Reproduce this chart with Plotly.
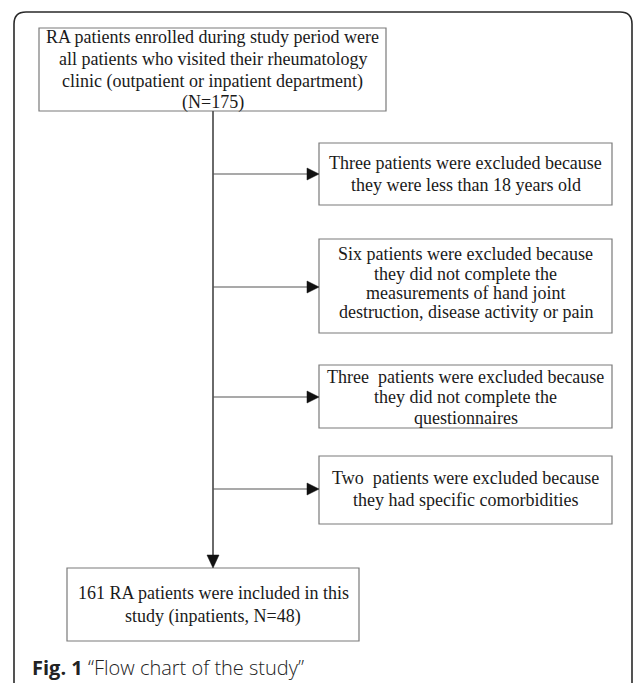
import plotly.graph_objects as go

# Flow chart content
main_text = ["RA patients enrolled during study period were",
             "all patients who visited their rheumatology",
             "clinic (outpatient or inpatient department)",
             "(N=175)"]
excl_texts = [
    ["Three patients were excluded because", "they were less than 18 years old"],
    ["Six patients were excluded because", "they did not complete the",
     "measurements of hand joint", "destruction, disease activity or pain"],
    ["Three  patients were excluded because", "they did not complete the", "questionnaires"],
    ["Two  patients were excluded because", "they had specific comorbidities"],
]
final_text = ["161 RA patients were included in this", "study (inpatients, N=48)"]
caption_bold = "Fig. 1"
caption_rest = "\u201cFlow chart of the study\u201d"

# layout geometry (pixels)
W, H = 633, 683
main_box = (39, 28, 386, 111)
main_lines_y = [37, 59, 81, 102]
excl_boxes = [(319, 143, 612, 205), (319, 239, 612, 333), (319, 365, 612, 428), (319, 456, 612, 524)]
excl_lines_y = [[163, 185], [254, 274, 293, 312], [377, 397, 418], [478, 500]]
arrow_ys = [174, 287, 397, 489]
final_box = (67, 568, 359, 641)
final_lines_y = [593, 616]
spine_x = 213

fig = go.Figure()
shapes = []
annos = []
serif = dict(family="Liberation Serif, Times New Roman, serif", size=18, color="#1a1a1a")

# outer frame
shapes.append(dict(type="path", path="M 14,700 L 14,24 Q 14,12 26,12 L 620,12 Q 632,12 632,24 L 632,700",
                   line=dict(color="#2a2a2a", width=1.6), layer="below"))

def box(b, text, ys):
    x0, y0, x1, y1 = b
    shapes.append(dict(type="rect", x0=x0, y0=y0, x1=x1, y1=y1,
                       line=dict(color="#7a7a7a", width=1.2), fillcolor="rgba(0,0,0,0)"))
    for t, y in zip(text, ys):
        annos.append(dict(x=(x0 + x1) / 2, y=y, text=t, showarrow=False,
                          font=serif, xanchor="center", yanchor="middle", align="center"))

box(main_box, main_text, main_lines_y)
for b, t, ys in zip(excl_boxes, excl_texts, excl_lines_y):
    box(b, t, ys)
box(final_box, final_text, final_lines_y)

# spine
shapes.append(dict(type="line", x0=spine_x, y0=main_box[3], x1=spine_x, y1=final_box[1] - 12,
                   line=dict(color="#5a5a5a", width=1.8)))
ty = final_box[1]
shapes.append(dict(type="path", path=f"M {spine_x-6},{ty-13} L {spine_x+6},{ty-13} L {spine_x},{ty} Z",
                   fillcolor="#111", line=dict(color="#111", width=0.5)))

# side arrows
for ay, b in zip(arrow_ys, excl_boxes):
    tip = b[0]
    shapes.append(dict(type="line", x0=spine_x, y0=ay, x1=tip - 12, y1=ay,
                       line=dict(color="#555", width=1.1)))
    shapes.append(dict(type="path", path=f"M {tip-12},{ay-6} L {tip-12},{ay+6} L {tip},{ay} Z",
                       fillcolor="#111", line=dict(color="#111", width=0.5)))

# caption
annos.append(dict(x=30, y=667, xanchor="left", yanchor="middle", showarrow=False,
                  text=f"<b>{caption_bold}</b> <span style='font-weight:300'>{caption_rest}</span>",
                  font=dict(family="Open Sans, Noto Sans, sans-serif", size=20, color="#222")))

fig.update_layout(width=W, height=H, margin=dict(l=0, r=0, t=0, b=0),
                  paper_bgcolor="white", plot_bgcolor="white",
                  xaxis=dict(range=[0, W], visible=False, fixedrange=True),
                  yaxis=dict(range=[H, 0], visible=False, fixedrange=True),
                  shapes=shapes, annotations=annos, showlegend=False)
fig.write_html("out.html", config={"displayModeBar": False},
               post_script="document.body.style.margin='0';document.body.style.overflow='hidden';")
